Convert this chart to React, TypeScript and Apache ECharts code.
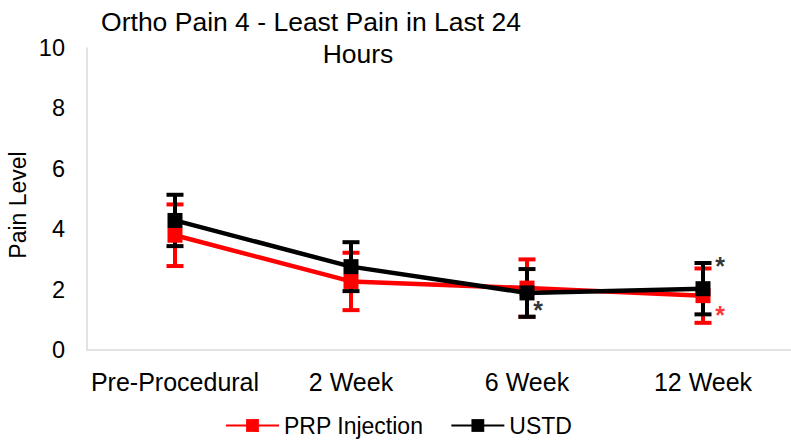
import React, { useEffect, useRef } from "react";
import * as echarts from "echarts";

const categories = ["Pre-Procedural", "2 Week", "6 Week", "12 Week"];
const prpMean = [3.8, 2.27, 2.05, 1.8];
const prpSD = [1.02, 0.95, 0.95, 0.9];
const ustdMean = [4.29, 2.76, 1.89, 2.03];
const ustdSD = [0.85, 0.81, 0.79, 0.85];
const yTicks = [0, 2, 4, 6, 8, 10];
// significance asterisks: [category index, value]
const ustdStars = [[2, 1.42], [3, 2.88]];
const prpStars = [[3, 1.26]];
const titleLines = ["Ortho Pain 4 - Least Pain in Last 24", "Hours"];

const FONT = "'Liberation Sans', Arial, sans-serif";
const RED = "#ff0000";
const BLACK = "#000000";

function errorBarSeries(name: string, mean: number[], sd: number[], color: string, z: number) {
  return {
    type: "custom",
    name: name + " err",
    z,
    silent: true,
    encode: { x: 0, y: [1, 2] },
    data: mean.map((m, i) => [i, m - sd[i], m + sd[i]]),
    renderItem: (params: any, api: any) => {
      const x = api.value(0);
      const lo = api.coord([x, api.value(1)]);
      const hi = api.coord([x, api.value(2)]);
      const hw = 8.5;
      const style = { stroke: color, lineWidth: 4, fill: "none" };
      return {
        type: "group",
        children: [
          { type: "line", shape: { x1: hi[0], y1: hi[1], x2: lo[0], y2: lo[1] }, style },
          { type: "line", shape: { x1: hi[0] - hw, y1: hi[1], x2: hi[0] + hw, y2: hi[1] }, style },
          { type: "line", shape: { x1: lo[0] - hw, y1: lo[1], x2: lo[0] + hw, y2: lo[1] }, style },
        ],
      };
    },
  };
}

function starSeries(name: string, pts: number[][], color: string, offsets: number[]) {
  return {
    type: "scatter",
    name,
    z: 10,
    silent: true,
    symbolSize: 1,
    itemStyle: { color: "transparent" },
    data: pts.map((p, i) => ({
      value: p,
      label: {
        show: true,
        formatter: "*",
        position: "inside",
        offset: [offsets[i], 3],
        color,
        fontSize: 25,
        fontFamily: FONT,
        fontWeight: "bold",
      },
    })),
  };
}

export default function App() {
  const ref = useRef<HTMLDivElement>(null);
  useEffect(() => {
    if (!ref.current) return;
    const chart = echarts.init(ref.current, null, { renderer: "svg" });
    chart.setOption({
      animation: false,
      backgroundColor: "#ffffff",
      textStyle: { fontFamily: FONT },
      grid: { left: 87, right: 0, top: 48, bottom: 90, containLabel: false },
      graphic: [
        {
          type: "text",
          style: {
            text: titleLines[0],
            x: 311,
            y: 22,
            align: "center",
            verticalAlign: "middle",
            fontSize: 26.5,
            fontFamily: FONT,
            fill: "#000",
          },
        },
        {
          type: "text",
          style: {
            text: titleLines[1],
            x: 358,
            y: 54,
            align: "center",
            verticalAlign: "middle",
            fontSize: 26.5,
            fontFamily: FONT,
            fill: "#000",
          },
        },
        {
          type: "text",
          x: 18,
          y: 205,
          rotation: Math.PI / 2,
          style: {
            text: "Pain Level",
            x: 0,
            y: 0,
            align: "center",
            verticalAlign: "middle",
            fontSize: 23,
            fontFamily: FONT,
            fill: "#000",
          },
        },
      ],
      legend: {
        bottom: 3,
        left: 225,
        padding: 0,
        itemWidth: 53,
        itemHeight: 16,
        itemGap: 27,
        textStyle: { fontSize: 23, fontFamily: FONT, color: "#000" },
        data: ["PRP Injection", "USTD"],
      },
      xAxis: {
        type: "category",
        data: categories,
        boundaryGap: true,
        axisLine: { show: true, lineStyle: { color: "#d9d9d9", width: 1.5 } },
        axisTick: { show: false },
        axisLabel: { fontSize: 25, color: "#000", fontFamily: FONT, margin: 19, interval: 0 },
        splitLine: { show: false },
      },
      yAxis: {
        type: "value",
        min: yTicks[0],
        max: yTicks[yTicks.length - 1],
        interval: 2,
        axisLine: { show: true, lineStyle: { color: "#d9d9d9", width: 1.5 } },
        axisTick: { show: false },
        axisLabel: { fontSize: 23.5, color: "#000", fontFamily: FONT, margin: 22 },
        splitLine: { show: false },
      },
      series: [
        errorBarSeries("PRP Injection", prpMean, prpSD, RED, 1),
        errorBarSeries("USTD", ustdMean, ustdSD, BLACK, 2),
        {
          type: "line",
          name: "PRP Injection",
          z: 3,
          data: prpMean,
          symbol: "rect",
          symbolSize: 15,
          lineStyle: { color: RED, width: 4.5 },
          itemStyle: { color: RED },
        },
        {
          type: "line",
          name: "USTD",
          z: 4,
          data: ustdMean,
          symbol: "rect",
          symbolSize: 15,
          lineStyle: { color: BLACK, width: 4.5 },
          itemStyle: { color: BLACK },
        },
        starSeries("ustdStars", ustdStars, BLACK, [11, 17]),
        starSeries("prpStars", prpStars, RED, [17]),
      ],
    });
    return () => chart.dispose();
  }, []);
  return (
    <div
      ref={ref}
      style={{ position: "fixed", left: 0, top: 0, width: 791, height: 440 }}
    />
  );
}
